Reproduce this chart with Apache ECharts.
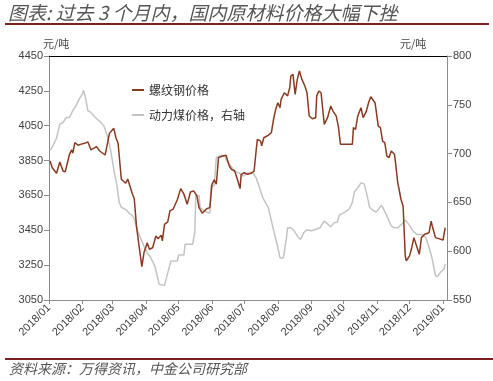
<!DOCTYPE html>
<html><head><meta charset="utf-8">
<script src="https://cdn.jsdelivr.net/npm/echarts@6/dist/echarts.min.js"></script>
<style>html,body{margin:0;padding:0;background:#fff}#c{width:493px;height:381px}</style>
</head><body><div id="c"></div>
<script>
const titleText = '图表: 过去 3 个月内，国内原材料价格大幅下挫';
const sourceText = '资料来源：万得资讯，中金公司研究部';
const unitText = '元/吨';
const steelName = '螺纹钢价格';
const coalName = '动力煤价格，右轴';
const tickMonths = ['2018/01','2018/02','2018/03','2018/04','2018/05','2018/06','2018/07','2018/08','2018/09','2018/10','2018/11','2018/12','2019/01'];
const leftTicks = [3050,3250,3450,3650,3850,4050,4250,4450];
const rightTicks = [550,600,650,700,750,800];

const steelDates = ['2018-01-02','2018-01-04','2018-01-08','2018-01-11','2018-01-14','2018-01-16','2018-01-20','2018-01-22','2018-01-23','2018-01-25','2018-01-28','2018-01-30','2018-02-03','2018-02-06','2018-02-09','2018-02-14','2018-02-17','2018-02-22','2018-02-24','2018-02-26','2018-03-02','2018-03-04','2018-03-06','2018-03-09','2018-03-13','2018-03-15','2018-03-19','2018-03-21','2018-03-23','2018-03-25','2018-03-26','2018-03-28','2018-03-30','2018-04-02','2018-04-04','2018-04-07','2018-04-10','2018-04-12','2018-04-15','2018-04-16','2018-04-18','2018-04-21','2018-04-23','2018-04-26','2018-04-30','2018-05-03','2018-05-06','2018-05-09','2018-05-12','2018-05-15','2018-05-18','2018-05-20','2018-05-23','2018-05-27','2018-05-30','2018-06-01','2018-06-03','2018-06-05','2018-06-07','2018-06-11','2018-06-14','2018-06-17','2018-06-19','2018-06-22','2018-06-25','2018-06-27','2018-06-28','2018-07-01','2018-07-04','2018-07-07','2018-07-10','2018-07-12','2018-07-13','2018-07-16','2018-07-17','2018-07-19','2018-07-23','2018-07-26','2018-07-28','2018-07-30','2018-08-01','2018-08-03','2018-08-04','2018-08-07','2018-08-10','2018-08-12','2018-08-13','2018-08-15','2018-08-17','2018-08-19','2018-08-21','2018-08-23','2018-08-26','2018-08-28','2018-08-30','2018-09-02','2018-09-05','2018-09-06','2018-09-08','2018-09-10','2018-09-13','2018-09-16','2018-09-19','2018-09-21','2018-09-24','2018-09-26','2018-09-28','2018-10-09','2018-10-10','2018-10-12','2018-10-14','2018-10-17','2018-10-19','2018-10-22','2018-10-24','2018-10-26','2018-10-30','2018-11-02','2018-11-04','2018-11-06','2018-11-08','2018-11-10','2018-11-12','2018-11-14','2018-11-17','2018-11-18','2018-11-20','2018-11-21','2018-11-23','2018-11-25','2018-11-26','2018-11-27','2018-11-28','2018-12-01','2018-12-03','2018-12-05','2018-12-08','2018-12-10','2018-12-12','2018-12-15','2018-12-19','2018-12-21','2018-12-22','2018-12-25','2018-12-28','2019-01-01','2019-01-03'];
const steelPrices = [3848,3809,3777,3842,3790,3785,3886,3911,3893,3953,3938,3943,3949,3957,3911,3930,3905,3882,3943,4006,4035,3981,3949,3743,3720,3743,3662,3631,3475,3379,3370,3241,3322,3379,3341,3350,3417,3402,3421,3389,3484,3498,3561,3571,3628,3689,3657,3599,3670,3676,3647,3580,3548,3574,3580,3714,3739,3714,3867,3876,3880,3819,3800,3790,3733,3689,3771,3780,3771,3777,3790,3915,3972,3962,3934,3981,3995,4010,4087,4144,4182,4153,4201,4239,4221,4268,4335,4345,4230,4316,4364,4320,4278,4239,4106,4090,4096,4221,4249,4239,4058,4096,4163,4134,4106,4048,3943,3943,4039,4029,4106,4153,4096,4134,4182,4216,4182,4048,4039,3962,3953,3876,3867,3905,3886,3838,3723,3694,3628,3589,3580,3303,3274,3303,3350,3408,3350,3312,3408,3427,3436,3503,3475,3408,3402,3394,3465];

const coalDates = ['2018-01-02','2018-01-05','2018-01-08','2018-01-11','2018-01-14','2018-01-17','2018-01-20','2018-01-23','2018-01-26','2018-01-29','2018-02-01','2018-02-02','2018-02-04','2018-02-06','2018-02-09','2018-02-12','2018-02-15','2018-02-18','2018-02-21','2018-02-24','2018-02-27','2018-03-02','2018-03-03','2018-03-05','2018-03-07','2018-03-09','2018-03-14','2018-03-17','2018-03-19','2018-03-21','2018-03-24','2018-03-27','2018-03-30','2018-04-02','2018-04-05','2018-04-09','2018-04-12','2018-04-13','2018-04-18','2018-04-21','2018-04-24','2018-04-30','2018-05-01','2018-05-06','2018-05-07','2018-05-14','2018-05-16','2018-05-17','2018-05-20','2018-05-21','2018-05-24','2018-05-27','2018-05-30','2018-05-31','2018-06-03','2018-06-05','2018-06-09','2018-06-13','2018-06-14','2018-06-17','2018-06-22','2018-06-26','2018-06-30','2018-07-04','2018-07-09','2018-07-12','2018-07-15','2018-07-18','2018-07-23','2018-07-26','2018-07-29','2018-08-01','2018-08-03','2018-08-06','2018-08-09','2018-08-10','2018-08-13','2018-08-16','2018-08-20','2018-08-22','2018-08-25','2018-08-28','2018-09-01','2018-09-04','2018-09-09','2018-09-13','2018-09-16','2018-09-19','2018-09-22','2018-09-25','2018-09-27','2018-10-02','2018-10-06','2018-10-09','2018-10-11','2018-10-14','2018-10-17','2018-10-20','2018-10-22','2018-10-25','2018-10-28','2018-10-31','2018-11-05','2018-11-07','2018-11-10','2018-11-14','2018-11-17','2018-11-20','2018-11-24','2018-11-27','2018-11-30','2018-12-04','2018-12-08','2018-12-13','2018-12-16','2018-12-19','2018-12-22','2018-12-25','2018-12-27','2018-12-30','2019-01-02','2019-01-03'];
const coalPrices = [703,709,716,730,732,737,737,744,749,756,761,765,756,744,742,738,735,732,728,718,704,684,678,667,650,645,642,638,637,633,621,613,605,598,594,585,571,566,565,578,590,590,596,596,607,607,619,657,657,645,642,640,639,667,667,696,698,698,694,689,682,680,677,680,680,675,665,655,645,631,617,604,593,593,614,624,624,621,614,612,619,622,621,622,624,631,628,625,629,630,637,640,643,650,661,665,670,669,660,645,642,640,647,643,636,626,624,624,628,632,628,621,617,617,614,604,592,575,574,579,582,587];

const toTs = s => { const [y, m, d] = s.split('-').map(Number); return new Date(y, m - 1, d).getTime(); };
const steelData = steelDates.map((d, i) => [toTs(d), steelPrices[i]]);
const coalData = coalDates.map((d, i) => [toTs(d), coalPrices[i]]);
const monthTs = tickMonths.map(s => { const [y, m] = s.split('/').map(Number); return new Date(y, m - 1, 1).getTime(); });
const xMin = monthTs[0];
const xMax = new Date(2019, 0, 4, 16).getTime();

const chart = echarts.init(document.getElementById('c'), null, {renderer: 'canvas'});
const labelColor = '#404040';
const axisColor = '#8c8c8c';
const cjk = '"Noto Sans CJK SC", sans-serif';
const steelColor = '#8a3a20';
const coalColor = '#c3c3c3';
chart.setOption({
  animation: false,
  backgroundColor: '#fff',
  textStyle: {fontFamily: '"Noto Sans CJK SC", "Noto Sans", sans-serif'},
  grid: {left: 49, right: 46, top: 56, bottom: 81},
  legend: {
    orient: 'vertical', left: 127, top: 79, itemWidth: 12, itemHeight: 2, itemGap: 13,
    textStyle: {fontSize: 12, color: '#333', fontFamily: cjk},
    data: [{name: steelName, icon: 'rect'}, {name: coalName, icon: 'rect'}]
  },
  graphic: [
    {type: 'text', left: 8, top: 3, style: {text: titleText, fontSize: 19, fontStyle: 'italic', fill: '#555', fontFamily: cjk}},
    {type: 'rect', left: 5, top: 23, shape: {width: 484, height: 2}, style: {fill: '#7a1f22'}},
    {type: 'rect', left: 5, top: 358, shape: {width: 488, height: 2}, style: {fill: '#7a1f22'}},
    {type: 'text', left: 9, top: 362, style: {text: sourceText, fontSize: 14, fontStyle: 'italic', fill: '#555', fontFamily: cjk}},
    {type: 'text', left: 43, top: 38, style: {text: unitText, fontSize: 11, fill: '#444', fontFamily: cjk}},
    {type: 'text', left: 400, top: 38, style: {text: unitText, fontSize: 11, fill: '#444', fontFamily: cjk}}
  ],
  xAxis: [{
    type: 'value', min: xMin, max: xMax, position: 'bottom', scale: true,
    axisLine: {lineStyle: {color: axisColor}},
    axisTick: {show: true, inside: false, length: 4, lineStyle: {color: axisColor}, customValues: monthTs},
    axisLabel: {rotate: 45, fontSize: 11, color: labelColor, margin: 6, fontFamily: '"Liberation Sans", sans-serif',
      customValues: monthTs,
      formatter: v => { const d = new Date(v); return d.getFullYear() + '/' + String(d.getMonth() + 1).padStart(2, '0'); }},
    splitLine: {show: false}
  }, {
    type: 'value', min: 0, max: 1, position: 'top',
    axisLine: {show: true, lineStyle: {color: '#000', width: 1}},
    axisTick: {show: false}, axisLabel: {show: false}, splitLine: {show: false}
  }],
  yAxis: [{
    type: 'value', min: 3050, max: 4450, position: 'left',
    axisLine: {show: true, lineStyle: {color: axisColor}},
    axisTick: {show: true, length: 5, lineStyle: {color: axisColor}, customValues: leftTicks},
    axisLabel: {fontSize: 11, color: labelColor, margin: 6, customValues: leftTicks, formatter: v => String(v),
      fontFamily: '"Liberation Sans", sans-serif'},
    splitLine: {show: false}
  }, {
    type: 'value', min: 550, max: 800, position: 'right',
    axisLine: {show: true, lineStyle: {color: axisColor}},
    axisTick: {show: true, length: 5, lineStyle: {color: axisColor}, customValues: rightTicks},
    axisLabel: {fontSize: 11, color: labelColor, margin: 6, customValues: rightTicks, formatter: v => String(v),
      fontFamily: '"Liberation Sans", sans-serif'},
    splitLine: {show: false}
  }],
  series: [{
    name: steelName, type: 'line', xAxisIndex: 0, yAxisIndex: 0, data: steelData,
    showSymbol: false, symbol: 'none', z: 3,
    lineStyle: {color: steelColor, width: 1.5}, itemStyle: {color: steelColor}
  }, {
    name: coalName, type: 'line', xAxisIndex: 0, yAxisIndex: 1, data: coalData,
    showSymbol: false, symbol: 'none', z: 2,
    lineStyle: {color: coalColor, width: 1.5}, itemStyle: {color: coalColor}
  }]
});
</script></body></html>
